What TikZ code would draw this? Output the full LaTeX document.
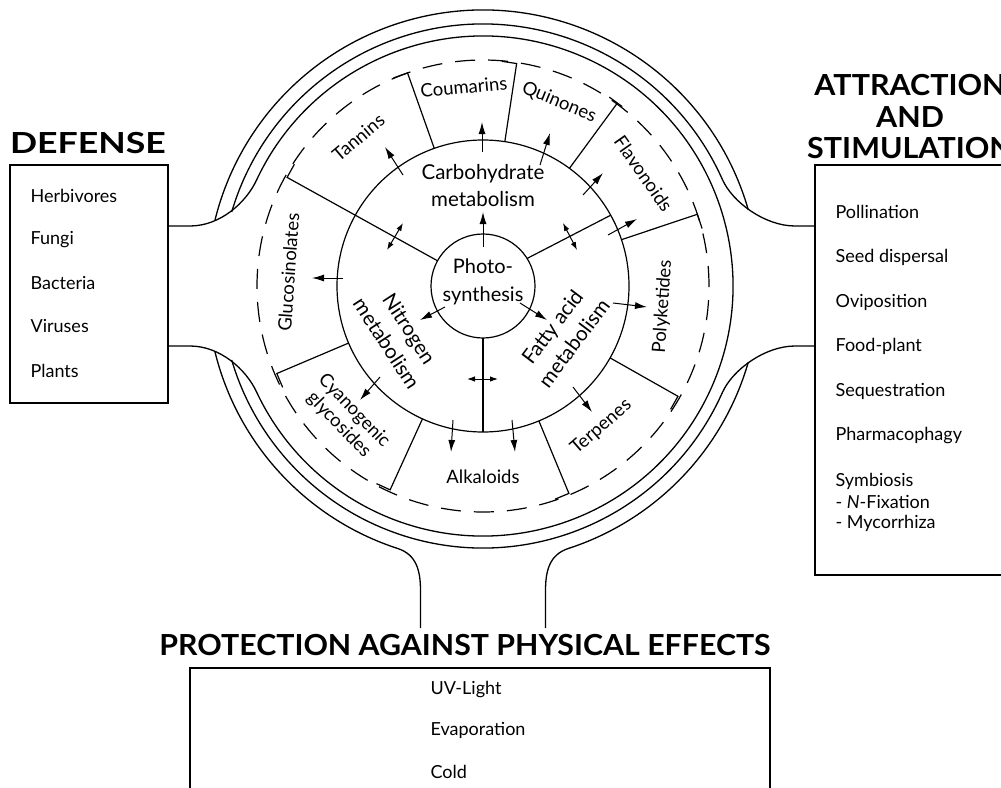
\documentclass[tikz,border=0pt]{standalone}
\usepackage{fontspec}
\setmainfont{Lato}
\usetikzlibrary{arrows.meta}
\begin{document}
\begin{tikzpicture}[x=1pt,y=1pt,line width=1.2pt,
  >={Latex[length=12pt,width=7pt]},
  lab/.style={font=\fontsize{18.5}{21}\selectfont, inner sep=0pt, align=center},
  met/.style={font=\fontsize{20.5}{27}\selectfont, align=center, inner sep=0pt},
  item/.style={font=\fontsize{18}{21}\selectfont, anchor=west, inner sep=0pt},
  ttl/.style={font=\fontsize{29}{31.5}\selectfont\bfseries, inner sep=0pt, align=center},
  arr/.style={->, line width=1pt},
  darr/.style={<->, line width=1pt, >={Latex[length=8pt,width=5.5pt]}},
  ring/.style={line width=1.3pt},
  dashring/.style={line width=1.2pt, dash pattern=on 20pt off 13pt},
  box/.style={line width=1.2pt}
]
\useasboundingbox (0,0) rectangle (1001,-787);
\clip (0,0) rectangle (1001,-787);
\fill[white] (0,0) rectangle (1001,-787);
\begin{scope}[shift={(483,-286)}]
  % boxes
  \draw[box] (-473,121) rectangle (-315,-117);
  \draw[box] (332,121) rectangle (540,-289);
  \draw[box] (-293,-382) rectangle (287,-520);
  % ring: inner circle joined to left tube
  \draw[ring] (-315,60) -- (-293,60) .. controls (-263,60) and (-237.2,83.1) .. (155:250)
     arc[start angle=155, end angle=-155, radius=250]
     .. controls (-237.2,-83.1) and (-263,-60) .. (-293,-60) -- (-315,-60);
  % middle circle joined to right tube
  \draw[ring] (332,60) -- (312,60) .. controls (282,60) and (249.5,83.7) .. (24:262)
     arc[start angle=24, end angle=163.6, radius=262];
  \draw[ring] (332,-60) -- (312,-60) .. controls (282,-60) and (249.5,-83.7) .. (-24:262)
     arc[start angle=-24, end angle=-163.6, radius=262];
  % outer circle joined to bottom tube
  \draw[ring] (16:276) arc[start angle=16, end angle=166.2, radius=276];
  \draw[ring] (193.8:276) arc[start angle=193.8, end angle=252, radius=276]
     .. controls (-66.3,-268.7) and (-62.5,-285) .. (-62.5,-305) -- (-62.5,-342);
  \draw[ring] (62.5,-342) -- (62.5,-305) .. controls (62.5,-285) and (66.3,-268.7) .. (288:276)
     arc[start angle=288, end angle=344, radius=276];
  % dashed circle
  \draw[dashring] (0,0) circle[radius=226];
  % metabolism and photosynthesis circles
  \draw (0,0) circle[radius=146];
  \draw (0,0) circle[radius=52];
  % sector boundaries
  \draw (151:52) -- (151:224) -- ++(61:15);
  \draw (109.5:146) -- (109.5:226) -- ++(199.5:15);
  \draw (81.4:146) -- (81.4:225) -- ++(171.4:15);
  \draw (53.7:146) -- (53.7:227);
  \draw (53.7:227) ++(143.7:10) -- ++(-36.3:16);
  \draw (32:52) -- (29:146);
  \draw (18.5:146) -- (18.5:226) -- ++(-71.5:15);
  \draw (-29.5:146) -- (-29.5:224) -- ++(-119.5:15);
  \draw (-67.5:146) -- (-67.5:224.5) -- ++(-157.5:15);
  \draw (-90:52) -- (-90:146);
  \draw (245.5:146) -- (245.5:224) -- ++(155.5:15);
  \draw (203:146) -- (203:224) -- ++(293:15);
  % arrows
  \coordinate (a1) at (0,39);    \coordinate (a2) at (0,74);
  \coordinate (b1) at (-1,134);  \coordinate (b2) at (-1,164);
  \coordinate (c1) at (-80,111); \coordinate (c2) at (-98,139);
  \coordinate (d1) at (57,121);  \coordinate (d2) at (67,153);
  \coordinate (e1) at (100,91);  \coordinate (e2) at (120,113);
  \coordinate (f1) at (125,51);  \coordinate (f2) at (154,67);
  \coordinate (h1) at (-38,-21); \coordinate (h2) at (-63,-34);
  \coordinate (i1) at (37,-17);  \coordinate (i2) at (64,-34);
  \coordinate (j1) at (-140,8);  \coordinate (j2) at (-171,8);
  \coordinate (k1) at (-103,-91); \coordinate (k2) at (-123,-114);
  \coordinate (l1) at (-30,-134); \coordinate (l2) at (-32,-166);
  \coordinate (m1) at (29,-134);  \coordinate (m2) at (32,-166);
  \coordinate (n1) at (90,-101);  \coordinate (n2) at (109,-126);
  \coordinate (o1) at (130,-17);  \coordinate (o2) at (164,-21);
  \coordinate (g1a) at (-96,36); \coordinate (g1b) at (-80,63);
  \coordinate (g2a) at (80,63);  \coordinate (g2b) at (94,36);
  \coordinate (g3a) at (-16,-93); \coordinate (g3b) at (15,-93);
  \foreach \p in {a,b,c,d,e,f,h,i,j,k,l,m,n,o} {\draw[arr] (\p1) -- (\p2);}
  \draw[darr] (g1a) -- (g1b);
  \draw[darr] (g2a) -- (g2b);
  \draw[darr] (g3a) -- (g3b);
  % central texts
  \node[met, font=\fontsize{20}{28.5}\selectfont] (photo) at (0,4) {Photo-\\synthesis};
  \node[met] (carb) at (0,100) {Carbohydrate\\metabolism};
  \node[met, rotate=-57] (nitro) at (-85,-50) {Nitrogen\\metabolism};
  \node[met, rotate=53] (fatty) at (80,-49) {Fatty acid\\metabolism};
  % product labels
  \node[lab, rotate=40] (tan) at (130:194) {Tannins};
  \node[lab, rotate=5.5] (cou) at (95.5:200) {Coumarins};
  \node[lab, rotate=-22.5] (qui) at (67.5:199) {Quinones};
  \node[lab, rotate=-55] (fla) at (35:196) {Flavonoids};
  \node[lab, rotate=86] (pol) at (-6.5:181) {Polyketides};
  \node[lab, rotate=41] (ter) at (-50:184) {Terpenes};
  \node[lab] (alk) at (-90:191) {Alkaloids};
  \node[lab, rotate=-46] (cya) at (224:190) {Cyanogenic\\glycosides};
  \node[lab, rotate=86] (glu) at (176:195) {Glucosinolates};
  % titles
  \node[ttl] (tdef) at (-395,143) {\scalebox{1.23}[1]{DEFENSE}};
  \node[ttl] (tatt) at (427,169) {\scalebox{1.05}[1]{ATTRACTION}\\\scalebox{1.05}[1]{AND}\\\scalebox{1.05}[1]{STIMULATION}};
  \node[ttl] (tpro) at (-18,-359) {\scalebox{1.045}[1]{PROTECTION AGAINST PHYSICAL EFFECTS}};
  % items
  \node[item] (i-herb) at (-453,90) {Herbivores};
  \node[item] (i-fung) at (-453,46) {Fungi};
  \node[item] (i-bact) at (-453,3) {Bacteria};
  \node[item] (i-vir) at (-453,-40) {Viruses};
  \node[item] (i-pla) at (-453,-85) {Plants};
  \node[item] (r-pol) at (352,74) {Pollination};
  \node[item] (r-seed) at (352,29) {Seed dispersal};
  \node[item] (r-ovi) at (352,-16) {Oviposition};
  \node[item] (r-food) at (352,-60) {Food-plant};
  \node[item] (r-seq) at (352,-105) {Sequestration};
  \node[item] (r-pha) at (352,-150) {Pharmacophagy};
  \node[item] (r-sym) at (352,-195) {Symbiosis};
  \node[item] (r-nfix) at (352,-216) {- \textit{N}-Fixation};
  \node[item] (r-myc) at (352,-237) {- Mycorrhiza};
  \node[item] (b-uv) at (-53,-404) {UV-Light};
  \node[item] (b-eva) at (-53,-444) {Evaporation};
  \node[item] (b-cold) at (-53,-486) {Cold};
\end{scope}
\end{tikzpicture}
\end{document}
